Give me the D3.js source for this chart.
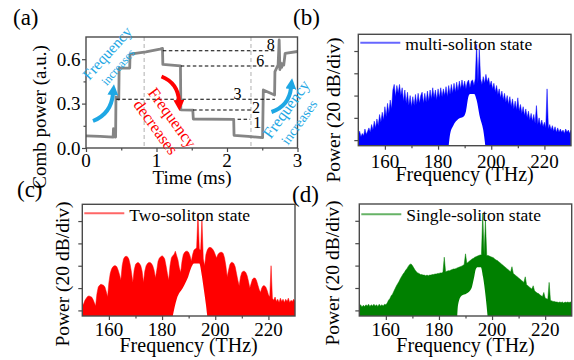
<!DOCTYPE html>
<html><head><meta charset="utf-8">
<script src="https://cdn.jsdelivr.net/npm/d3@7"></script>
<style>
body{margin:0;background:#fff}
svg{display:block}
text{font-family:"Liberation Serif","Times New Roman",serif;fill:#000}
</style>
</head><body>
<svg id="fig" width="574" height="360"></svg>
<script>
// ---------- DATA ----------
// Panel (a): comb power vs time
const timeMs = [0,0.2,0.385,0.39,0.40,0.41,0.42,0.425,0.465,0.47,0.62,0.625,0.85,1.05,1.085,1.09,1.34,1.345,1.515,1.522,2.095,2.1,2.3,2.505,2.515,2.675,2.68,2.725,2.74,2.75,2.76,2.775,2.79,2.805,2.825,3.0];
const combPower = [0.082,0.079,0.074,0.13,0.125,0.075,0.074,0.345,0.33,0.54,0.54,0.635,0.65,0.668,0.673,0.565,0.555,0.258,0.256,0.196,0.194,0.086,0.078,0.07,0.392,0.358,0.516,0.561,0.73,0.53,0.575,0.545,0.57,0.56,0.64,0.652];
const levelValues = [0.657,0.554,0.329,0.257,0.194];
const levelStart  = [1.09,1.345,0.43,1.52,2.15];
const levelEnd    = [2.70,2.69,2.68,2.35,2.33];
const levelLabels = ["8","6","3","2","1"];
const levelLabelT = [2.62,2.47,2.15,2.41,2.43];
const levelLabelV = [0.659,0.554,0.333,0.2385,0.135];
const markerTimes = [0.825,2.34];
const timeTicks = [0,1,2,3];
const powerTicks = [0,0.3,0.6];

// Spectra: 150..230 THz, sampled every 0.5 THz (dB, 20 dB/div)
const freqTicks = [160,180,200,220];
const specMulti = [
-76,-72,-77,-74,-76,-70,-75,-72,-69,-73,
-66,-71,-63,-69,-61,-67,-57,-64,-55,-62,
-50,-59,-47,-56,-44,-52,-35,-30,-41,-31,
-38,-30,-40,-33,-45,-35,-47,-37,-49,-40,
-50,-41,-49,-39,-48,-38,-47,-40,-37,-47,
-38,-46,-36,-45,-35,-43,-33,-42,-35,-44,
-34,-42,-33,-41,-34,-40,-32,-41,-31,-39,
-30,-38,-29,-37,-28,-36,-27,-34,-26,-33,
-27,-34,-28,-26,-33,-27,-26,-31,-25,6,
-29,2,-25,-30,-23,-29,-21,-28,-24,-31,
-27,-34,-29,-37,-31,-39,-34,-42,-36,-44,
-38,-46,-40,-48,-41,-50,-43,-52,-45,-53,
-42,-54,-48,-56,-50,-58,-52,-60,-54,-62,
-56,-63,-57,-65,-49,-66,-60,-67,-62,-68,
-64,-69,-34,-70,-66,-71,-67,-72,-68,-73,
-69,-73,-70,-73,-71,-74,-70,-73,-71,-74,
-71];
const gapMulti = [[183.8,-90],[184.5,-75],[185.7,-67],[187.6,-61],[189.5,-59],[190.5,-54],[191.4,-41],[192,-38.5],[193.6,-38.5],[194.5,-44],[195.7,-59],[197,-71],[198,-90]];

const specTwo = [
-76,-74,-71,-69,-67.5,-67,-67.5,-68,-70,-73,
-76,-65,-59,-57.5,-56.5,-57,-57.5,-59,-63,-68,
-55,-47,-43,-41,-40,-40,-41,-44,-48,-53,
-40,-34,-32,-31.5,-32,-34,-39,-46,-55,-44,
-39,-37.5,-37,-38,-40,-45,-55,-45,-40,-38,
-37,-37,-38,-40,-44,-51,-44,-36,-33,-32,
-31,-32,-34,-40,-47,-53,-40,-33,-31,-30,
-27,-31,-35,-42,-46,-36,-30,-28,-27,-27,
-28,-31,-36,-30,-26,-25,-24,7,-25,-26,
1.5,-34,-40,-30,-26,-24,-23.5,-24,-25,-27,
-30,-33,-30,-28.5,-28,-28,-29,-33,-40,-50,
-44,-39,-37,-37,-38,-41,-47,-53,-58,-50,
-46,-45,-45,-46,-49,-54,-60,-56,-52,-51,
-51,-53,-57,-61,-64,-60,-58,-58,-59,-62,
-66,-68,-40,-69,-71,-68,-72,-70,-73,-69,
-72,-70,-73,-70,-72,-69,-73,-71,-72,-70,
-72];
const gapTwo = [[183.6,-90],[185.5,-70],[188,-59],[189.8,-50],[191.1,-41],[192,-38],[194,-38],[194.9,-48],[195.7,-61],[197,-85],[197.2,-90]];

const specSingle = [
-76,-75,-77,-75.5,-76.5,-75,-76,-74.5,-76.5,-75,
-76,-74.5,-76,-75,-76.5,-74.5,-76,-75,-76,-74.5,
-75,-73.5,-71,-69.5,-67,-65.5,-63,-60.5,-58,-56,
-54,-51.5,-49.5,-47.5,-46,-44,-42.5,-40.5,-39,-38.5,
-40,-42,-44,-45.5,-46.5,-47,-48,-48,-48.5,-48.5,
-49,-48.5,-49,-48.5,-48.5,-48,-48,-47.5,-47.5,-47,
-47,-46.5,-46.5,-46,-32.5,-45.5,-45,-44.5,-44.5,-44,
-43.5,-43,-43,-42.5,-42,-41.5,-41,-40.5,-40,-39,
-29.5,-38,-37,-36,-35,-34,-33.5,-32.5,-32,-31.5,
-31,-30.5,-30.5,6.5,-30.5,0.5,-31,-31,-31.5,-32,
-32.5,-33,-34,-35,-35.5,-36.5,-37.5,-38.5,-39.5,-40.5,
-41.5,-42.5,-43.5,-44.5,-45.5,-41,-47,-48,-49,-50,
-51,-52,-53,-54,-55,-50,-57,-58,-59,-60,
-61,-58,-62.5,-63.5,-64.5,-65,-66,-67,-67.5,-64,
-69,-69.5,-70,-55,-71,-71.5,-72,-72,-72.5,-72.5,
-73,-72.5,-73,-72.5,-73.5,-72.5,-73,-72.5,-73,-72.5,
-73];
const gapSingle = [[186.8,-90],[187.2,-75],[188.5,-67],[190.4,-65],[192.3,-60],[193.1,-52],[193.9,-43],[194.5,-41.5],[195.8,-41.5],[196.6,-50],[197.6,-68],[198.5,-90]];

// ---------- DRAWING ----------
const svg = d3.select("#fig");
const FRAME = "#4a4a4a";
const CYAN = "#1ea7e4";
const RED = "#ff0000";
const freqGrid = d3.range(0, specMulti.length).map(i => 150 + i * 0.5);

function frame(g, b){
  g.append("rect").attr("x",b.l).attr("y",b.t).attr("width",b.r-b.l).attr("height",b.b-b.t)
   .attr("fill","none").attr("stroke",FRAME).attr("stroke-width",1.4);
}
function tickAxis(g, axis, tx, ty){
  const a = g.append("g").attr("transform",`translate(${tx},${ty})`).call(axis);
  a.select(".domain").remove();
  a.selectAll(".tick line").attr("stroke",FRAME).attr("stroke-width",1.2);
  a.selectAll(".tick text").remove();
  return a;
}
function clip(id, b){
  svg.append("defs").append("clipPath").attr("id",id).append("rect")
    .attr("x",b.l).attr("y",b.t).attr("width",b.r-b.l).attr("height",b.b-b.t);
}
function txt(s, x, y, size, opts={}){
  const t = svg.append("text").attr("x",x).attr("y",y).attr("font-size",size).text(s);
  if(opts.anchor) t.attr("text-anchor",opts.anchor);
  if(opts.fill) t.style("fill",opts.fill);
  if(opts.rot!==undefined) t.attr("transform",`rotate(${opts.rot},${x},${y})`);
  if(opts.dy) t.attr("dy",opts.dy);
  return t;
}

// ===== Panel (a) =====
const bA = {l:86,r:297.5,t:37,b:148};
const xA = d3.scaleLinear().domain([0,3]).range([bA.l,bA.r]);
const yA = d3.scaleLinear().domain([0,0.75]).range([bA.b,bA.t]);
clip("clipA", bA);
const gA = svg.append("g");
const gAc = gA.append("g").attr("clip-path","url(#clipA)");
markerTimes.forEach(t=>{
  gAc.append("line").attr("x1",xA(t)).attr("x2",xA(t)).attr("y1",bA.t).attr("y2",bA.b)
    .attr("stroke","#bdbdbd").attr("stroke-width",1.2).attr("stroke-dasharray","4,3");
});
gAc.append("path").datum(timeMs.map((t,i)=>[t,combPower[i]]))
  .attr("d", d3.line().x(d=>xA(d[0])).y(d=>yA(d[1])))
  .attr("fill","none").attr("stroke","#858585").attr("stroke-width",2.8).attr("stroke-linejoin","round");
levelValues.forEach((v,i)=>{
  gAc.append("line").attr("x1",xA(levelStart[i])).attr("x2",xA(levelEnd[i]))
    .attr("y1",yA(v)).attr("y2",yA(v)).attr("stroke","#000").attr("stroke-width",1.1).attr("stroke-dasharray","3.5,2.5");
  txt(levelLabels[i], xA(levelLabelT[i]), yA(levelLabelV[i]), 16, {anchor:"middle"});
});
tickAxis(gA, d3.axisBottom(xA).tickValues(timeTicks).tickSize(4), 0, bA.b);
tickAxis(gA, d3.axisBottom(xA).tickValues([0.5,1.5,2.5]).tickSize(2.5), 0, bA.b);
tickAxis(gA, d3.axisLeft(yA).tickValues(powerTicks).tickSize(4), bA.l, 0);
tickAxis(gA, d3.axisLeft(yA).tickValues([0.15,0.45]).tickSize(2.5), bA.l, 0);
frame(gA, bA);
timeTicks.forEach(v=>txt(String(v), xA(v), 167, 19, {anchor:"middle"}));
powerTicks.forEach(v=>txt(v.toFixed(1), 80.5, yA(v), 19, {anchor:"end", dy:"0.35em"}));
txt("Time (ms)", 192, 184, 19, {anchor:"middle"});
txt("Comb power (a.u.)", 46, 117, 19, {anchor:"middle", rot:-90});

// arrows
const defs = svg.append("defs");
function marker(id, color){
  defs.append("marker").attr("id",id).attr("viewBox","0 0 10 10").attr("refX",1).attr("refY",5)
    .attr("markerUnits","userSpaceOnUse").attr("markerWidth",11).attr("markerHeight",11).attr("orient","auto")
    .append("path").attr("d","M0,0 L10,5 L0,10 z").attr("fill",color);
}
marker("mCyan", CYAN); marker("mRed", RED);
function arrow(x0,y0,cx,cy,x1,y1,color,m){
  const p = d3.path(); p.moveTo(x0,y0); p.quadraticCurveTo(cx,cy,x1,y1);
  svg.append("path").attr("d",p.toString()).attr("fill","none").attr("stroke",color)
    .attr("stroke-width",4).attr("marker-end",`url(#${m})`);
}
arrow(93,121,111,114,113,94,CYAN,"mCyan");
arrow(271.5,112,289,106,291,88,CYAN,"mCyan");
arrow(161.5,76.5,178,83,179,101,RED,"mRed");

txt("Frequency", 107, 53, 15.5, {anchor:"middle", fill:CYAN, rot:-48, dy:"0.35em"});
txt("increases", 118, 67, 12, {anchor:"middle", fill:CYAN, rot:-49, dy:"0.35em"});
txt("Frequency", 286, 109, 16, {anchor:"middle", fill:CYAN, rot:-54, dy:"0.35em"});
txt("increases", 299, 122, 14, {anchor:"middle", fill:CYAN, rot:-54, dy:"0.35em"});
txt("Frequency", 172.5, 117.5, 16.5, {anchor:"middle", fill:RED, rot:54, dy:"0.35em"});
txt("decreases", 156, 127, 16.5, {anchor:"middle", fill:RED, rot:54, dy:"0.35em"});

// ===== Spectra panels =====
function spectrum(id, b, values, gap, color, legend, legendY, legendBase, xTitleBase, tickBase, yTitleX, yTitleY){
  const x = d3.scaleLinear().domain([150,230]).range([b.l,b.r]);
  const y = d3.scaleLinear().domain([-85,15]).range([b.b,b.t]);
  clip(id, b);
  const g = svg.append("g");
  const gc = g.append("g").attr("clip-path",`url(#${id})`);
  const data = freqGrid.map((f,i)=>[f, values[i]]);
  gc.append("path").datum(data)
    .attr("d", d3.area().x(d=>x(d[0])).y0(b.b+5).y1(d=>y(d[1])))
    .attr("fill",color).attr("stroke",color).attr("stroke-width",0.5);
  gc.append("path").datum(gap)
    .attr("d", d3.line().x(d=>x(d[0])).y(d=>y(d[1])).curve(d3.curveMonotoneX))
    .attr("fill","#fff").attr("stroke","none");
  tickAxis(g, d3.axisBottom(x).tickValues(freqTicks).tickSize(4), 0, b.b);
  tickAxis(g, d3.axisBottom(x).tickValues([170,190,210]).tickSize(2.5), 0, b.b);
  tickAxis(g, d3.axisLeft(y).tickValues([-80,-60,-40,-20,0]).tickSize(4), b.l, 0);
  frame(g, b);
  // legend
  g.append("line").attr("x1",b.l+2).attr("x2",b.l+42).attr("y1",legendY).attr("y2",legendY)
    .attr("stroke",color).attr("stroke-opacity",0.6).attr("stroke-width",2);
  txt(legend, b.l+47, legendBase, 17.5);
  freqTicks.forEach(v=>txt(String(v), x(v), tickBase, 19, {anchor:"middle"}));
  txt("Frequency (THz)", (b.l+b.r)/2, xTitleBase, 20, {anchor:"middle"});
  txt("Power (20 dB/div)", yTitleX, yTitleY, 19.5, {anchor:"middle", rot:-90});
}
spectrum("clipB", {l:358.3,r:571,t:34.3,b:145.7}, specMulti, gapMulti, "#0000ff", "multi-soliton state", 42.7, 49.5, 181, 167.5, 340, 110);
spectrum("clipC", {l:82.3,r:295,t:204.3,b:316}, specTwo, gapTwo, "#ff0000", "Two-soliton state", 213.3, 221, 352, 335.5, 68.5, 274);
spectrum("clipD", {l:359.3,r:571.7,t:204,b:316}, specSingle, gapSingle, "#008000", "Single-soliton state", 214.3, 221, 352, 336, 338.5, 273);

// panel labels
txt("(a)", 13, 24.5, 23);
txt("(b)", 293, 24.5, 23);
txt("(c)", 17, 197, 23);
txt("(d)", 292, 201.5, 23);
</script>
</body></html>
